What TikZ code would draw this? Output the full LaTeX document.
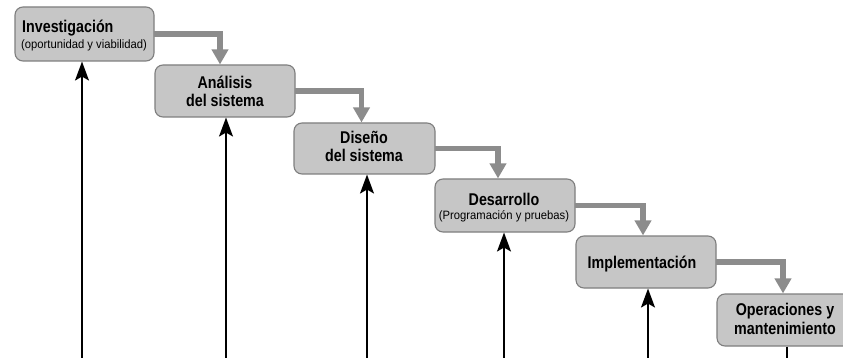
\documentclass[tikz,border=0pt]{standalone}
\usepackage{fontspec}
\setmainfont{Liberation Sans}[FakeStretch=0.84]
\newfontfamily\subfont{Liberation Sans}[FakeStretch=0.93]
\usetikzlibrary{arrows.meta}
\definecolor{boxfill}{HTML}{C6C6C6}
\definecolor{boxline}{HTML}{7E7E7E}
\definecolor{flow}{HTML}{8C8C8C}
\tikzset{
  stage/.style={draw=boxline, line width=1.1pt, fill=boxfill, rounded corners=8pt,
    minimum width=140pt, minimum height=52pt, inner sep=0pt},
  ttl/.style={anchor=base, inner sep=0pt, font=\fontsize{17pt}{18pt}\selectfont\bfseries},
  sbt/.style={anchor=base, inner sep=0pt, font=\subfont\fontsize{12.1pt}{13pt}\selectfont},
  flowarrow/.style={draw=flow, line width=5.5pt,
    -{Triangle[length=15pt,width=16pt]}, shorten <=-0.5pt},
  backarrow/.style={draw=black, line width=1.6pt,
    -{Stealth[length=19pt,width=14pt,inset=4pt]}},
  backline/.style={draw=black, line width=1.6pt}
}
\begin{document}
\begin{tikzpicture}[x=1pt,y=-1pt]
\clip (0,0) rectangle (843,358);
\fill[white] (0,0) rectangle (843,358);
% stage boxes
\node[stage, minimum width=139pt, minimum height=54pt] (b1) at (84.5,34) {};
\node[stage] (b2) at (225,91) {};
\node[stage, minimum width=141pt, minimum height=51pt] (b3) at (364.5,148.5) {};
\node[stage, minimum height=53pt] (b4) at (505,205.5) {};
\node[stage] (b5) at (646,262) {};
\node[stage] (b6) at (787,320) {};
% labels
\node[ttl, anchor=base west] (t1a) at (22,32.5) {Investigación};
\node[sbt] (t1b) at (84,48.7) {(oportunidad y viabilidad)};
\node[ttl] (t2a) at (225,88.5) {Análisis};
\node[ttl] (t2b) at (225,106.5) {del sistema};
\node[ttl] (t3a) at (364,143.5) {Diseño};
\node[ttl] (t3b) at (364,162) {del sistema};
\node[ttl] (t4a) at (504,205) {Desarrollo};
\node[sbt] (t4b) at (504,219.5) {(Programación y pruebas)};
\node[ttl] (t5a) at (642,268.5) {Implementación};
\node[ttl] (t6a) at (785,315) {Operaciones y};
\node[ttl] (t6b) at (785,334) {mantenimiento};
% grey flow arrows
\draw[flowarrow] (b1.east) -| ([xshift=-5pt]b2.north);
\draw[flowarrow] (b2.east) -| ([xshift=-3pt]b3.north);
\draw[flowarrow] (b3.east) -| ([xshift=-7pt]b4.north);
\draw[flowarrow] (b4.east) -| ([xshift=-3pt]b5.north);
\draw[flowarrow] (b5.east) -| ([xshift=-4pt]b6.north);
% black feedback arrows from the bottom
\coordinate (f1) at (82,370);
\coordinate (f2) at (226,370);
\coordinate (f3) at (367,370);
\coordinate (f4) at (504,370);
\coordinate (f5) at (648,370);
\coordinate (f6) at (787,370);
\draw[backarrow] (f1) -- (f1 |- b1.south);
\draw[backarrow] (f2) -- (f2 |- b2.south);
\draw[backarrow] (f3) -- (f3 |- b3.south);
\draw[backarrow] (f4) -- (f4 |- b4.south);
\draw[backarrow] (f5) -- (f5 |- b5.south);
\draw[backline] (b6.south) -- (f6);
\end{tikzpicture}
\end{document}
